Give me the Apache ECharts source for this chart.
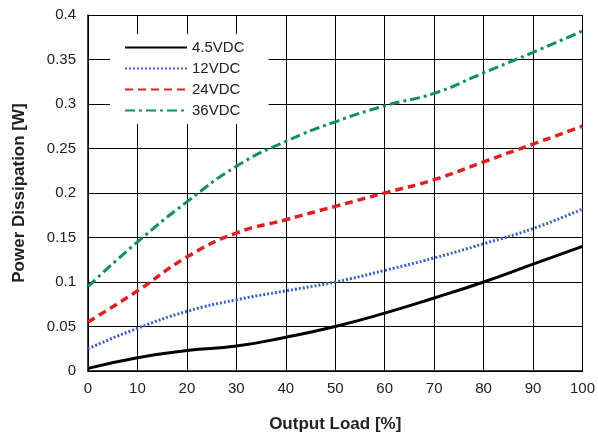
<!DOCTYPE html><html><head><meta charset="utf-8"><script src="https://cdn.jsdelivr.net/npm/echarts@6/dist/echarts.min.js"></script></head><body style="margin:0;background:#fff"><div id="c" style="width:598px;height:446px"></div><script>
const xs=[0,10,20,30,40,50,60,70,80,90,100];
const v45=[0.003,0.015,0.023,0.028,0.038,0.05,0.065,0.082,0.1,0.12,0.14];
const v12=[0.025,0.048,0.067,0.08,0.09,0.1,0.113,0.127,0.143,0.16,0.182];
const v24=[0.055,0.09,0.128,0.155,0.17,0.185,0.2,0.215,0.235,0.255,0.275];
const v36=[0.095,0.145,0.19,0.23,0.258,0.28,0.298,0.312,0.335,0.358,0.382];
const names=['4.5VDC','12VDC','24VDC','36VDC'];
const f='"Liberation Sans Narrow","Liberation Sans",sans-serif';
function s(n,d,c,t,w){return {name:n,type:'line',data:xs.map((x,i)=>[x,d[i]]),symbol:'none',smooth:true,lineStyle:{color:c,type:t,width:w},itemStyle:{color:c}};}
const ch=echarts.init(document.getElementById('c'));
ch.setOption({animation:false,
grid:{left:88,right:15,top:15,bottom:75},
legend:{left:110,top:34,orient:'vertical',itemGap:6,itemWidth:62,itemHeight:8,backgroundColor:'#fff',padding:[6,24,6,14],itemStyle:{opacity:0},textStyle:{fontFamily:f,fontSize:15,color:'#222'},data:names},
xAxis:{type:'value',min:0,max:100,interval:10,name:'Output Load [%]',nameLocation:'middle',nameGap:45,nameTextStyle:{fontFamily:f,fontSize:17,fontWeight:'bold',color:'#222'},axisLine:{lineStyle:{color:'#000',width:1.5}},axisTick:{show:false},axisLabel:{fontFamily:f,fontSize:15,color:'#222',margin:10},splitLine:{lineStyle:{color:'#000',width:1}}},
yAxis:{type:'value',min:0,max:0.4,interval:0.05,name:'Power Dissipation [W]',nameLocation:'middle',nameGap:60,nameTextStyle:{fontFamily:f,fontSize:17,fontWeight:'bold',color:'#222'},axisLine:{show:true,lineStyle:{color:'#000',width:1.5}},axisTick:{show:false},axisLabel:{fontFamily:f,fontSize:15,color:'#222',margin:12},splitLine:{lineStyle:{color:'#000',width:1}}},
series:[s(names[0],v45,'#000','solid',3),s(names[1],v12,'#3a5fc8',[2,2],3),s(names[2],v24,'#e02020',[8,5],3.5),s(names[3],v36,'#12905a',[10,4,3,4],3)]});
</script></body></html>
